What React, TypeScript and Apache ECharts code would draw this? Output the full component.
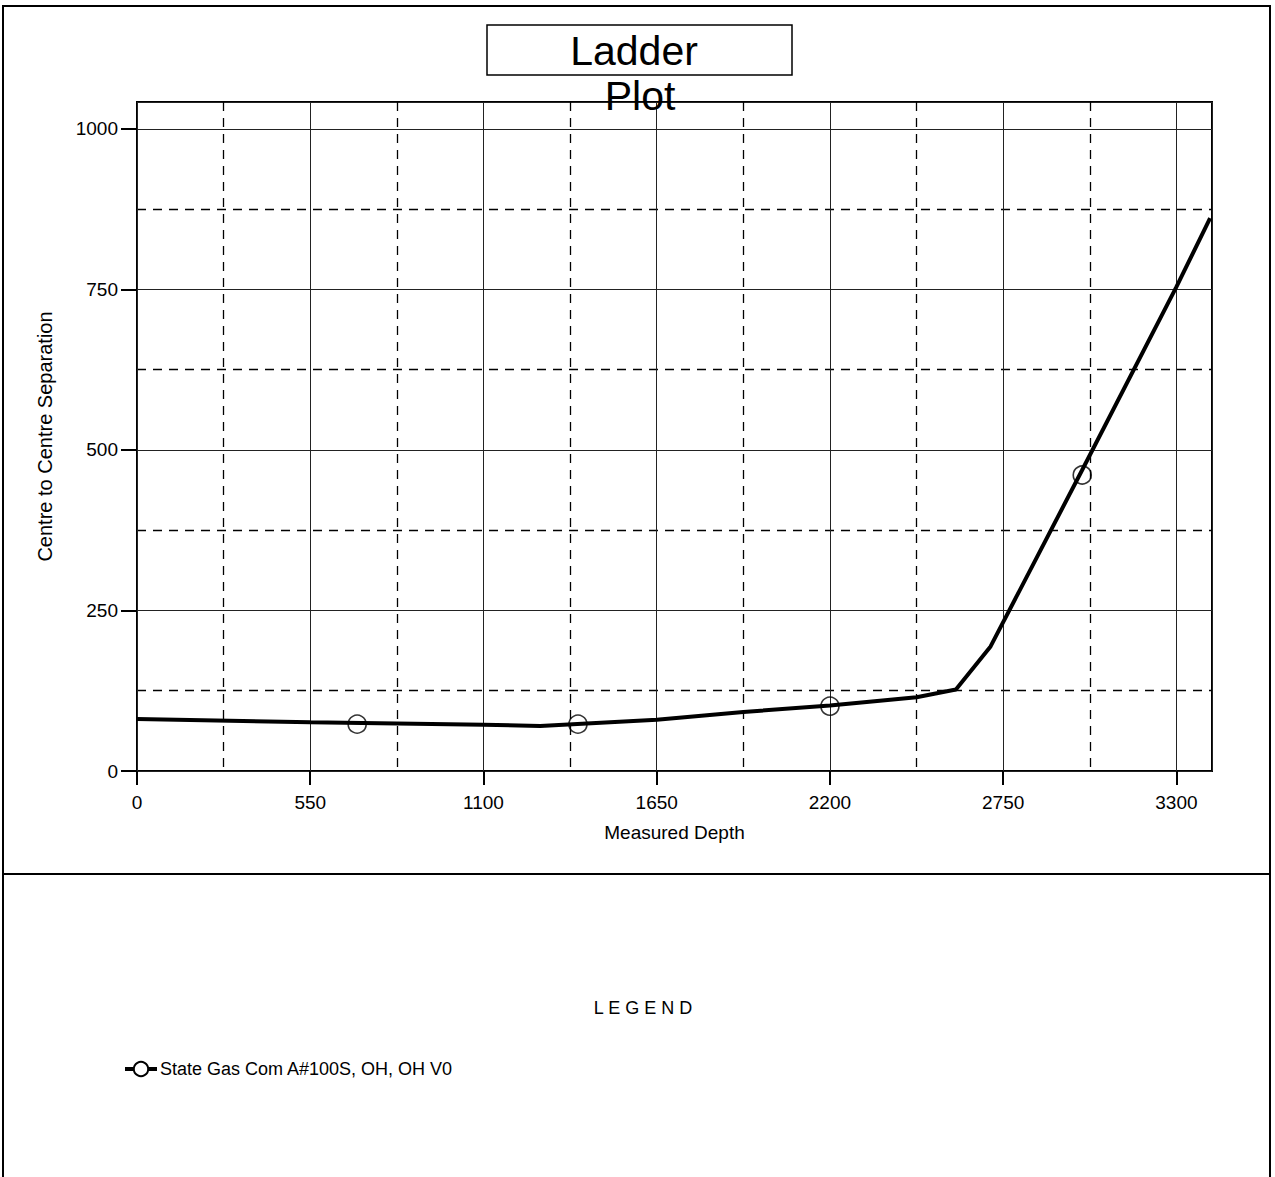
import React, { useEffect, useRef } from "react";
import * as echarts from "echarts";

const lineDepth = [0, 550, 1100, 1280, 1650, 1925, 2200, 2475, 2600, 2710, 3000, 3300, 3407];
const lineSep = [81, 76, 72, 70, 80, 92, 102, 115, 127, 194, 468, 754, 861];
const markerDepth = [699, 1400, 2200, 3001];
const markerSep = [73, 73, 101, 461];
const seriesName = "State Gas Com A#100S, OH, OH V0";

export default function App() {
  const ref = useRef<HTMLDivElement>(null);
  useEffect(() => {
    const chart = echarts.init(ref.current!, undefined, { renderer: "svg" });
    const font = "'Liberation Sans', Arial, sans-serif";
    chart.setOption({
      animation: false,
      backgroundColor: "#fff",
      grid: {
        left: 137, top: 102, width: 1075, height: 669,
        show: true, borderColor: "#000", borderWidth: 2, backgroundColor: "transparent",
      },
      xAxis: {
        type: "value", min: 0, max: 3413, interval: 550,
        name: "Measured Depth", nameLocation: "middle", nameGap: 52,
        nameTextStyle: { color: "#000", fontSize: 19, fontFamily: font },
        axisLine: { show: false },
        axisTick: { show: true, length: 14, lineStyle: { color: "#000", width: 2 } },
        axisLabel: {
          color: "#000", fontSize: 19, fontFamily: font, margin: 22,
          showMaxLabel: false, formatter: (v: number) => String(v),
        },
        splitLine: { show: true, lineStyle: { color: "#222", width: 1, type: "solid" } },
        minorTick: { show: false, splitNumber: 2 },
        minorSplitLine: { show: true, lineStyle: { color: "#000", width: 1.3, type: [9, 7] } },
      },
      yAxis: {
        type: "value", min: 0, max: 1042, interval: 250,
        name: "Centre to Centre Separation", nameLocation: "middle", nameGap: 82,
        nameTextStyle: { color: "#000", fontSize: 20, fontFamily: font },
        axisLine: { show: false },
        axisTick: { show: true, length: 16, lineStyle: { color: "#000", width: 2 } },
        axisLabel: {
          color: "#000", fontSize: 19, fontFamily: font, margin: 19,
          showMaxLabel: false, formatter: (v: number) => String(v),
        },
        splitLine: { show: true, lineStyle: { color: "#222", width: 1, type: "solid" } },
        minorTick: { show: false, splitNumber: 2 },
        minorSplitLine: { show: true, lineStyle: { color: "#000", width: 1.3, type: [9, 7] } },
      },
      legend: {
        left: 118, top: 1055, itemWidth: 32, itemHeight: 18, itemGap: 8,
        data: [seriesName],
        itemStyle: { borderWidth: 3 },
        lineStyle: { width: 4 },
        textStyle: { color: "#000", fontSize: 18, fontFamily: font, padding: [0, 0, 0, -2] },
      },
      series: [
        {
          name: seriesName,
          type: "line",
          data: lineDepth.map((d, i) => [d, lineSep[i]]),
          symbol: "emptyCircle",
          showSymbol: false,
          lineStyle: { color: "#000", width: 4 },
          itemStyle: { color: "#000" },
          z: 3,
        },
        {
          name: "markers",
          type: "scatter",
          data: markerDepth.map((d, i) => [d, markerSep[i]]),
          symbol: "circle",
          symbolSize: 18,
          itemStyle: { color: "transparent", borderColor: "#000", borderWidth: 1.6 },
          z: 4,
        },
      ],
      graphic: [
        { type: "rect", shape: { x: 3, y: 6, width: 1267, height: 1200 }, style: { fill: "none", stroke: "#000", lineWidth: 2 }, silent: true },
        { type: "line", shape: { x1: 3, y1: 874, x2: 1270, y2: 874 }, style: { stroke: "#000", lineWidth: 2 }, silent: true },
        { type: "rect", shape: { x: 487, y: 25, width: 305, height: 50 }, style: { fill: "#fff", stroke: "#000", lineWidth: 1.5 }, silent: true },
        { type: "text", x: 634, y: 51, style: { text: "Ladder", fill: "#000", fontSize: 41, fontFamily: font, align: "center", verticalAlign: "middle" }, z: 10 },
        { type: "text", x: 640, y: 96, style: { text: "Plot", fill: "#000", fontSize: 41, fontFamily: font, align: "center", verticalAlign: "middle" }, z: 10 },
        { type: "text", x: 643, y: 1008, style: { text: "L E G E N D", fill: "#000", fontSize: 18, fontFamily: font, align: "center", verticalAlign: "middle" }, z: 10 },
      ],
    });
    return () => chart.dispose();
  }, []);
  return (
    <div style={{ position: "absolute", left: 0, top: 0, width: 1275, height: 1177, background: "#fff" }}>
      <div ref={ref} style={{ width: 1275, height: 1177 }} />
    </div>
  );
}
